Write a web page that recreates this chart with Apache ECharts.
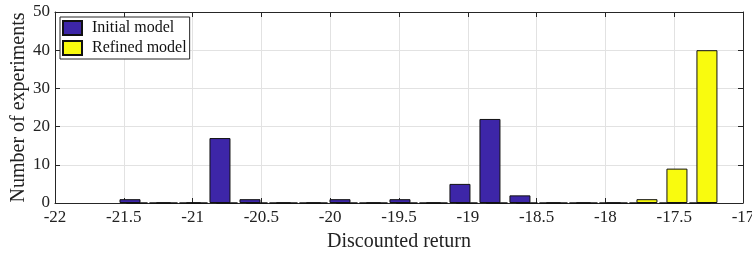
<!DOCTYPE html>
<html>
<head>
<meta charset="utf-8">
<script src="https://cdn.jsdelivr.net/npm/echarts@6/dist/echarts.min.js"></script>
<style>
html,body{margin:0;padding:0;background:#fff;}
#chart{width:752px;height:255px;}
</style>
</head>
<body>
<div id="chart"></div>
<script>
// Bin centres (discounted return) and counts
var initialCenters = [-21.455, -21.237, -21.019, -20.801, -20.583, -20.365, -20.147, -19.929, -19.711, -19.493,
                      -19.275, -19.057, -18.839, -18.621, -18.403, -18.185, -17.967, -17.749, -17.531, -17.313];
var initialCounts  = [1, 0, 0, 17, 1, 0, 0, 1, 0, 1, 0, 5, 22, 2, 0, 0, 0, 0, 0, 0];
var refinedCenters = [-21.404, -21.186, -20.968, -20.750, -20.532, -20.314, -20.096, -19.878, -19.660, -19.442,
                      -19.224, -19.006, -18.788, -18.570, -18.352, -18.134, -17.916, -17.698, -17.480, -17.262];
var refinedCounts  = [0, 0, 0, 0, 0, 0, 0, 0, 0, 0, 0, 0, 0, 0, 0, 0, 0, 1, 9, 40];
var seriesNames = ['Initial model', 'Refined model'];
var xTitle = 'Discounted return';
var yTitle = 'Number of experiments';

function pairs(xs, ys) { return xs.map(function (x, i) { return [x, ys[i]]; }); }

var FONT = '"Liberation Serif", "Times New Roman", serif';
var AX = '#262626';
var GRID = '#e2e2e2';

var chart = echarts.init(document.getElementById('chart'), null, {renderer: 'canvas'});
var baseX = {
  type: 'value', min: -22, max: -17, interval: 0.5
};
chart.setOption({
  animation: false,
  backgroundColor: '#fff',
  textStyle: {fontFamily: FONT},
  grid: {left: 55, right: 9, top: 12, bottom: 52, containLabel: false, outerBoundsMode: 'none'},
  legend: {
    orient: 'vertical', left: 60, top: 17,
    itemWidth: 19, itemHeight: 14, itemGap: 4,
    padding: [3, 3, 3, 2],
    backgroundColor: '#fff', borderColor: AX, borderWidth: 1,
    icon: 'rect',
    textStyle: {fontFamily: FONT, fontSize: 16, color: '#111', padding: [0, 0, 0, 5]},
    data: seriesNames
  },
  xAxis: [
    Object.assign({}, baseX, {
      position: 'bottom',
      name: xTitle, nameLocation: 'middle', nameGap: 29, nameMoveOverlap: false,
      nameTextStyle: {fontFamily: FONT, fontSize: 20, color: '#222'},
      axisLine: {show: true, onZero: false, lineStyle: {color: AX, width: 1}},
      axisTick: {show: true, inside: true, length: 5, lineStyle: {color: AX}},
      axisLabel: {fontFamily: FONT, fontSize: 17, color: '#222', margin: 6,
                  formatter: function (v) { return String(v); }},
      splitLine: {show: true, lineStyle: {color: GRID, width: 1}}
    }),
    Object.assign({}, baseX, {
      position: 'top',
      axisLine: {show: true, onZero: false, lineStyle: {color: AX, width: 1}},
      axisTick: {show: true, inside: true, length: 5, lineStyle: {color: AX}},
      axisLabel: {show: false},
      splitLine: {show: false}
    })
  ],
  yAxis: [
    {
      type: 'value', min: 0, max: 50, interval: 10, position: 'left',
      name: yTitle, nameLocation: 'middle', nameGap: 26, nameMoveOverlap: false,
      nameTextStyle: {fontFamily: FONT, fontSize: 20, color: '#222'},
      axisLine: {show: true, onZero: false, lineStyle: {color: AX, width: 1}},
      axisTick: {show: true, inside: true, length: 5, lineStyle: {color: AX}},
      axisLabel: {fontFamily: FONT, fontSize: 17, color: '#222', margin: 5},
      splitLine: {show: true, lineStyle: {color: GRID, width: 1}}
    },
    {
      type: 'value', min: 0, max: 50, interval: 10, position: 'right',
      axisLine: {show: true, onZero: false, lineStyle: {color: AX, width: 1}},
      axisTick: {show: true, inside: true, length: 5, lineStyle: {color: AX}},
      axisLabel: {show: false},
      splitLine: {show: false}
    }
  ],
  series: [
    {
      name: seriesNames[0], type: 'bar', xAxisIndex: 0, yAxisIndex: 0,
      barWidth: 21, barGap: '-100%',
      itemStyle: {color: '#3d26a8', borderColor: '#111', borderWidth: 1},
      data: pairs(initialCenters, initialCounts)
    },
    {
      name: seriesNames[1], type: 'bar', xAxisIndex: 0, yAxisIndex: 0,
      barWidth: 21, barGap: '-100%',
      itemStyle: {color: '#f9fb0e', borderColor: '#111', borderWidth: 1},
      data: pairs(refinedCenters, refinedCounts)
    }
  ]
});
</script>
</body>
</html>
